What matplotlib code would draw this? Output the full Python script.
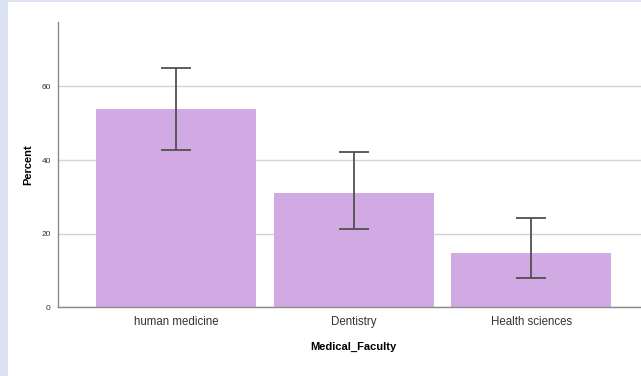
import matplotlib
matplotlib.use("Agg")
import matplotlib.pyplot as plt
from matplotlib.patches import Rectangle

faculties = ["human medicine", "Dentistry", "Health sciences"]
percent = [53.9, 31.1, 14.8]
ci_low = [42.7, 21.4, 8.0]
ci_high = [65.0, 42.2, 24.2]

plt.rcParams["font.family"] = ["Liberation Sans", "DejaVu Sans"]

fig = plt.figure(figsize=(6.41, 3.76), dpi=100)
fig.patch.set_facecolor("white")

# light blue frame on the left and top edges
fig.add_artist(Rectangle((0, 0), 8 / 641, 1, transform=fig.transFigure,
                         facecolor="#dbe3f3", edgecolor="none", zorder=0))
fig.add_artist(Rectangle((0, 1 - 1.5 / 376), 1, 1.5 / 376, transform=fig.transFigure,
                         facecolor="#dbe3f3", edgecolor="none", zorder=0))

ax = fig.add_axes([0.09, 0.1827, 0.9234, 0.7588])
x = list(range(len(faculties)))
ax.bar(x, percent, width=0.9, color="#d1aae4", zorder=2)

yerr = [[p - lo for p, lo in zip(percent, ci_low)],
        [hi - p for p, hi in zip(percent, ci_high)]]
ax.errorbar(x, percent, yerr=yerr, fmt="none", ecolor="#505050",
            elinewidth=1.3, capsize=10.5, capthick=1.3, zorder=3)

ax.set_xlim(-0.666, 2.666)
ax.set_ylim(0, 77.5)
ax.set_yticks([0, 20, 40, 60])
ax.set_xticks(x)
ax.set_xticklabels(faculties, fontsize=8.3, color="#333333")
ax.tick_params(axis="y", labelsize=6, length=0, pad=5, labelcolor="#333333")
ax.tick_params(axis="x", length=0, pad=6)

ax.grid(axis="y", color="#d4d4d4", linewidth=1, zorder=1)
for side in ["top", "right"]:
    ax.spines[side].set_visible(False)
for side in ["left", "bottom"]:
    ax.spines[side].set_color("#8a8a8a")
    ax.spines[side].set_linewidth(1)
    ax.spines[side].set_zorder(4)

ax.set_ylabel("Percent", fontsize=8, fontweight="bold", labelpad=6)
ax.set_xlabel("Medical_Faculty", fontsize=8, fontweight="bold", labelpad=10)

fig.savefig("out.png", dpi=100)
